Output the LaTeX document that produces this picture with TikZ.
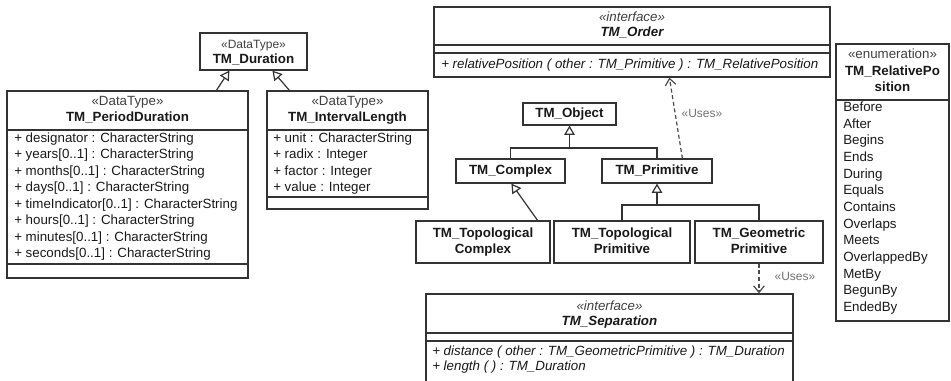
\documentclass[tikz,border=0pt]{standalone}
\usepackage{fontspec}
\setmainfont{Liberation Sans}
\usetikzlibrary{fit,calc,arrows.meta}
\begin{document}
\begin{tikzpicture}[x=0.75pt,y=-0.75pt,
  font=\fontsize{10}{12}\selectfont,
  box/.style={draw=black!80, line width=0.9pt, inner sep=0pt},
  sepline/.style={draw=black!80, line width=0.9pt},
  txt/.style={inner sep=0pt, text height=7.2pt, text depth=2.1pt, text=black!90},
  attr/.style={txt, anchor=west},
  title/.style={txt, font=\fontsize{10}{12}\selectfont\bfseries},
  ititle/.style={txt, font=\fontsize{10}{12}\selectfont\bfseries\itshape},
  stereo/.style={txt, text=black!75},
  istereo/.style={txt, text=black!75, font=\fontsize{10}{12}\selectfont\itshape},
  gen/.style={draw=black!80, line width=0.9pt, -{Triangle[open, length=7pt, width=8pt]}},
  uses/.style={draw=black!70, line width=0.9pt, dash pattern=on 3pt off 2pt, -{Straight Barb[length=5pt, width=8pt]}},
  useslbl/.style={txt, text=black!55, font=\fontsize{9}{10}\selectfont},
]
\clip (0,0) rectangle (951,380);
\fill[white] (0,0) rectangle (951,380);

% TM_Duration
\node[box, fit={(200,33) (307,70)}] (dur) {};
\node[stereo, font=\fontsize{9}{10}\selectfont] (durS) at (253.5,45) {«DataType»};
\node[title] (durT) at (253.5,60) {TM\_Duration};

% TM_PeriodDuration
\node[box, fit={(7,91) (248,278)}] (pd) {};
\draw[sepline] (7,130) -- (248,130);
\draw[sepline] (7,264) -- (248,264);
\node[stereo] (pdS) at (127.5,102) {«DataType»};
\node[title] (pdT) at (127.5,118) {TM\_PeriodDuration};
\foreach \t [count=\i from 0] in {designator : CharacterString, years[0..1] : CharacterString, months[0..1] : CharacterString, days[0..1] : CharacterString, timeIndicator[0..1] : CharacterString, hours[0..1] : CharacterString, minutes[0..1] : CharacterString, seconds[0..1] : CharacterString}
  \node[attr] (pdA\i) at (14,139+16.5*\i) {+ \t};

% TM_IntervalLength
\node[box, fit={(267,91) (428,209)}] (il) {};
\draw[sepline] (267,130) -- (428,130);
\draw[sepline] (267,197) -- (428,197);
\node[stereo] (ilS) at (347.5,102) {«DataType»};
\node[title] (ilT) at (347.5,118) {TM\_IntervalLength};
\foreach \t [count=\i from 0] in {unit : CharacterString, radix : Integer, factor : Integer, value : Integer}
  \node[attr] (ilA\i) at (273,139+16.5*\i) {+ \t};

\draw[gen] ($(pd.north west)+(210,0)$) -- ($(dur.south west)+(30,0)$);
\draw[gen] ($(il.north west)+(23,0)$) -- ($(dur.south west)+(73,0)$);

% TM_Order
\node[box, fit={(434,7) (830,77)}] (order) {};
\draw[sepline] (434,45) -- (830,45);
\draw[sepline] (434,53) -- (830,53);
\node[istereo] (ordS) at (632,18) {«interface»};
\node[ititle] (ordT) at (632,33) {TM\_Order};
\node[attr, font=\fontsize{10}{12}\selectfont\itshape] (ordO) at (441,65) {+ relativePosition ( other : TM\_Primitive ) : TM\_RelativePosition};

% TM_RelativePosition
\node[box, fit={(836,44) (949,321)}] (enum) {};
\draw[sepline] (836,100) -- (949,100);
\node[stereo] (enS) at (892.5,55) {«enumeration»};
\node[title] (enT1) at (892.5,72) {TM\_RelativePo};
\node[title] (enT2) at (892.5,88) {sition};
\foreach \t [count=\i from 0] in {Before, After, Begins, Ends, During, Equals, Contains, Overlaps, Meets, OverlappedBy, MetBy, BegunBy, EndedBy}
  \node[attr] (enA\i) at (843,108+16.67*\i) {\t};

% TM_Object hierarchy
\node[box, fit={(523,103) (616,125)}] (obj) {};
\node[title] at (obj.center) {TM\_Object};
\node[box, fit={(456,159) (565,183)}] (cplx) {};
\node[title] at (cplx.center) {TM\_Complex};
\node[box, fit={(602,159) (712,183)}] (prim) {};
\node[title] at (prim.center) {TM\_Primitive};

\node[box, fit={(416,221) (550,263)}] (tcplx) {};
\node[title] at (483,234) {TM\_Topological};
\node[title] at (483,250) {Complex};
\node[box, fit={(554,221) (690,263)}] (tprim) {};
\node[title] at (622,234) {TM\_Topological};
\node[title] at (622,250) {Primitive};
\node[box, fit={(695,221) (823,263)}] (gprim) {};
\node[title] at (759,234) {TM\_Geometric};
\node[title] at (759,250) {Primitive};

\coordinate (objbar) at (569.5,148);
\draw[gen] (obj.south |- objbar) -- (obj.south);
\draw[sepline] (cplx.north) |- (prim.north |- objbar) -- (prim.north);

\coordinate (primbar) at (657,205);
\draw[gen] (prim.south |- primbar) -- (prim.south);
\draw[sepline] (tprim.north) |- (gprim.north |- primbar) -- (gprim.north);

\draw[gen] ($(tcplx.north east)+(-13,0)$) -- ($(cplx.south west)+(56,0)$);

% TM_Separation
\node[box, fit={(426,294) (793,395)}] (sep) {};
\draw[sepline] (426,333) -- (793,333);
\draw[sepline] (426,341) -- (793,341);
\node[istereo] (sepS) at (609.5,307) {«interface»};
\node[ititle] (sepT) at (609.5,322) {TM\_Separation};
\node[attr, font=\fontsize{10}{12}\selectfont\itshape] (sepO1) at (432,352) {+ distance ( other : TM\_GeometricPrimitive ) : TM\_Duration};
\node[attr, font=\fontsize{10}{12}\selectfont\itshape] (sepO2) at (432,367) {+ length ( ) : TM\_Duration};

% Uses dependencies
\draw[uses] ($(prim.north west)+(81,0)$) -- ($(order.south west)+(236,0)$);
\node[useslbl] (u1) at (702,114) {«Uses»};
\draw[uses] (gprim.south) -- (sep.north -| gprim.south);
\node[useslbl] (u2) at (795,277) {«Uses»};
\end{tikzpicture}
\end{document}
